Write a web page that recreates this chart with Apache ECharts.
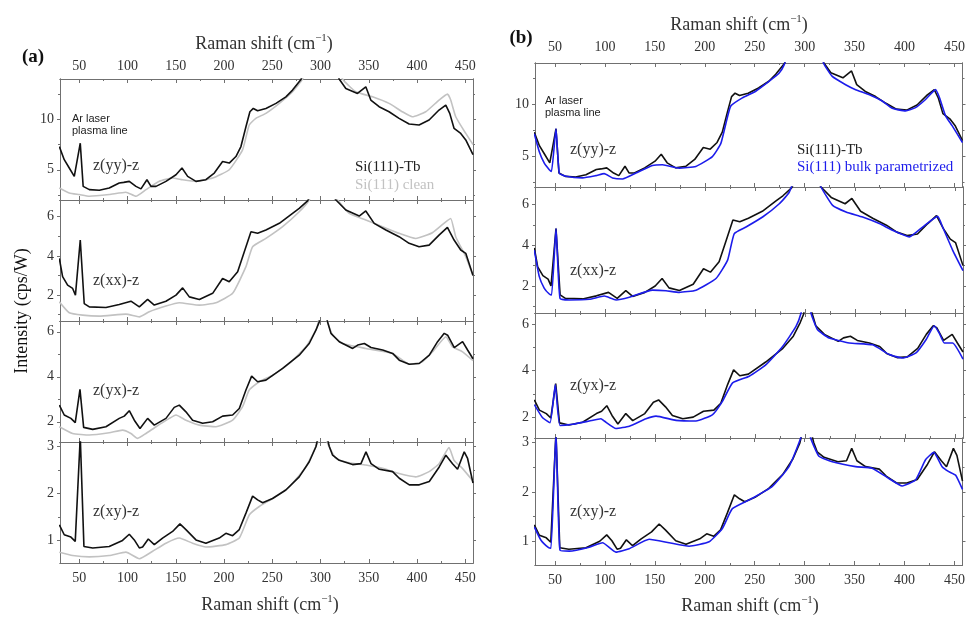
<!DOCTYPE html>
<html>
<head>
<meta charset="utf-8">
<script src="https://cdn.jsdelivr.net/npm/echarts@6/dist/echarts.min.js"></script>
<style>
html,body{margin:0;padding:0;background:#fff}
#chart{width:968px;height:617px}
</style>
</head>
<body>
<div id="chart"></div>
<script>
// tick positions
const xMajor = [50, 100, 150, 200, 250, 300, 350, 400, 450];
const xMinor = [75, 125, 175, 225, 275, 325, 375, 425];
const yMajor = [[5, 10], [2, 4, 6], [2, 4, 6], [1, 2, 3]];
const yMinor = [[2.5, 7.5, 12.5], [1, 3, 5], [3, 5], [1.5, 2.5]];
const yRange = [[2, 14], [0.68, 6.85], [1.1, 6.48], [0.52, 3.09]];
const modeLabels = ['z(yy)-z', 'z(xx)-z', 'z(yx)-z', 'z(xy)-z'];

// Si(111)-Tb (black)
const tbYY = [[29.3,7.3],[34.4,6.0],[39.6,5.17],[44.8,4.34],[46.5,4.3],[51,7.63],[54,3.35],[60.4,3.03],[70.7,2.97],[81,3.19],[91.4,3.69],[96,3.75],[101.8,3.85],[108.7,3.35],[113.9,3.1],[120.1,4.01],[124.3,3.35],[129.5,3.35],[139.8,3.85],[150.2,4.5],[156.4,5.17],[162.3,4.34],[170.9,3.85],[181.2,4.01],[189.9,4.67],[198.5,5.82],[205.4,5.66],[212.3,6.31],[217.5,7.3],[222.7,9.27],[226.8,10.75],[230.3,11.08],[234.8,10.85],[243.4,11.08],[253.8,11.58],[264.1,12.23],[271,12.9],[279.7,13.95],[290,16.5],[300,18],[310,16.5],[319.3,14],[326.2,13.06],[338.3,12.57],[346.9,13.23],[352.1,11.91],[360.7,11.25],[371,10.75],[381.4,10.1],[391.8,9.54],[402.1,9.44],[412.5,9.93],[422.8,10.92],[429.8,11.41],[433.9,10.59],[438.4,9.1],[445.3,8.6],[450.5,7.96],[458,6.5]];
const tbXX = [[29.3,3.87],[32.7,2.94],[37.9,2.51],[43.1,2.34],[46,2.0],[51,4.81],[55.1,1.57],[60.4,1.4],[77.6,1.37],[91.4,1.52],[103.5,1.69],[112.2,1.4],[120.8,1.78],[127.7,1.49],[139.8,1.69],[150.2,2.0],[157.1,2.37],[164,1.91],[174.4,1.78],[188.2,2.09],[198.5,2.85],[205.4,2.68],[214.1,3.19],[221,4.21],[227.9,5.23],[234.8,5.15],[243.4,5.32],[257.3,5.66],[271,6.17],[277.9,6.42],[286.6,6.81],[300,8],[316,6.85],[326.2,6.34],[340.1,6.03],[346.9,6.29],[355.6,5.66],[367.7,5.32],[381.4,4.98],[391.8,4.64],[402.1,4.47],[412.5,4.55],[422.8,5.06],[431.5,5.45],[438.4,4.81],[445.3,4.3],[450.5,4.13],[458,3.0]];
const tbYX = [[29.3,2.74],[34.4,2.3],[41.3,2.15],[45.8,1.96],[50.7,3.44],[54.5,1.75],[63.9,1.66],[77.6,1.78],[91.4,2.15],[96.6,2.25],[101.8,2.49],[107,2.07],[112.9,1.7],[120.8,2.15],[127.7,1.85],[139.8,2.15],[148.4,2.64],[153.6,2.74],[160.5,2.44],[167.4,2.07],[177.8,1.93],[188.2,2.0],[198.5,2.25],[208.9,2.3],[215.8,2.59],[222.7,3.41],[228.6,4.03],[234.8,3.78],[243.4,3.85],[260.7,4.37],[277.9,4.96],[288.3,5.48],[295.2,6.07],[298.7,6.44],[302,7.5],[307.3,6.44],[310.8,5.93],[319.4,5.56],[333.3,5.26],[338.5,5.41],[345.4,5.48],[352.3,5.3],[364.4,5.19],[374.7,5.04],[381.6,4.74],[392,4.56],[402.3,4.59],[412.7,4.96],[421.3,5.56],[428.2,5.93],[431.7,5.85],[438.6,5.3],[447.2,5.56],[452.4,5.19],[458,4.8]];
const tbXY = [[29.3,1.33],[34.4,1.12],[41.3,1.07],[45.8,0.98],[51,3.2],[54.8,0.87],[63.9,0.84],[81,0.87],[94.8,1.0],[101.8,1.13],[107,1.01],[112.2,0.84],[115.6,0.86],[121.5,1.03],[127.7,0.91],[136.3,1.05],[146.7,1.19],[154.3,1.35],[160.5,1.23],[170.9,1.01],[181.2,0.94],[195,1.05],[201.9,1.15],[208.9,1.1],[215.8,1.23],[222.7,1.58],[229.6,1.94],[234.8,1.86],[240,1.8],[250.3,1.89],[264.1,2.07],[277.9,2.35],[288.3,2.67],[295.2,2.99],[302,3.6],[309,3.0],[312.5,2.81],[319.4,2.7],[333.2,2.61],[341.9,2.63],[347.1,2.88],[352.3,2.63],[360.9,2.51],[374.7,2.46],[381.6,2.32],[392,2.18],[402.3,2.18],[412.7,2.25],[423,2.56],[429.9,2.81],[436.8,2.63],[442,2.51],[448.9,2.88],[452.4,2.74],[458,2.22]];

// Si(111) clean (grey)
const cleanYY = [[29.3,3.19],[39.6,2.7],[50,2.54],[60.4,2.37],[81,2.54],[98.3,2.77],[108.7,2.37],[119.1,3.03],[132.9,3.85],[146.7,4.18],[157.1,4.01],[170.9,3.85],[188.2,4.18],[205.4,5.0],[219.2,6.97],[226.1,9.44],[233,10.1],[243.4,10.59],[257.3,11.58],[271,12.73],[281.4,14],[292,17],[300,18.5],[310,17],[322.8,14],[336.6,12.73],[353.9,12.23],[371,11.58],[384.8,10.75],[395.1,10.26],[409,10.75],[422.8,11.91],[431.5,12.5],[434.9,11.91],[440.1,10.26],[450.5,8.6],[458,7.5]];
const cleanXX = [[29.3,1.66],[39.6,1.1],[53.4,0.98],[70.7,0.93],[98.3,1.03],[112.2,0.89],[122.5,1.15],[139.8,1.44],[153.6,1.61],[174.4,1.49],[191.6,1.61],[208.9,2.09],[222.7,3.45],[229.6,4.47],[243.4,4.89],[260.7,5.49],[277.9,6.25],[288.3,6.85],[300,8],[317.7,6.85],[329.7,6.17],[346.9,5.83],[364.2,5.49],[381.4,5.15],[398.7,4.89],[415.9,5.18],[429.8,5.74],[434.9,5.91],[440.1,4.98],[450.5,3.96],[458,3.0]];
const cleanYX = [[29.3,1.78],[43.1,1.48],[60.4,1.41],[81,1.51],[94.8,1.63],[103.5,1.48],[110.4,1.26],[119.1,1.48],[129.5,1.78],[143.3,2.15],[150.2,2.3],[160.5,2.07],[174.4,1.85],[191.6,1.78],[208.9,2.07],[219.2,2.67],[226.1,3.41],[236.5,3.78],[250.3,4.07],[267.6,4.59],[284.8,5.33],[295.2,6.07],[297.9,6.48],[302,7.5],[307,6.48],[312.5,5.85],[322.8,5.48],[347,5.26],[374.7,5.04],[392,4.56],[405.7,4.67],[416.1,5.11],[429.9,5.78],[436.8,5.33],[447.2,5.11],[458,4.72]];
const cleanXY = [[29.3,0.75],[43.1,0.68],[60.4,0.65],[81,0.68],[98.3,0.75],[112.2,0.61],[126,0.77],[139.8,0.94],[153.6,1.05],[167.4,0.94],[181.2,0.86],[201.9,0.91],[215.8,1.05],[226.1,1.54],[236.5,1.72],[250.3,1.89],[267.6,2.14],[284.8,2.56],[296.9,3.08],[302,3.6],[307,3.08],[316,2.74],[329.7,2.65],[346.9,2.6],[364.2,2.53],[381.4,2.42],[398.7,2.35],[412.5,2.46],[422.8,2.63],[433.2,2.97],[438.4,2.7],[447,2.53],[458,2.26]];

// Si(111) bulk parametrized (blue)
const bulkYY = [[29.3,7.15],[34.3,5.41],[39.3,4.3],[44.3,3.67],[46.5,3.5],[51,7.63],[54.3,3.35],[61,3.04],[77.6,2.88],[91,3.1],[99.3,3.29],[107.6,2.88],[117.6,2.78],[131,3.35],[147.6,4.08],[157.6,4.15],[174.3,3.83],[191,3.99],[207.6,4.94],[216,6.2],[221,8.1],[226,9.84],[237.6,10.63],[251,11.27],[264.3,12.22],[274.3,13.0],[279.3,13.8],[290,16.5],[300,19],[310,16.5],[319.3,13.9],[327.6,12.7],[341,11.9],[351,11.42],[364.3,10.95],[377.6,10.32],[387.6,9.62],[401,9.37],[411,9.68],[421,10.47],[431,11.42],[435,10.63],[441,8.89],[447.6,7.94],[458,6.3]];
const bulkXX = [[29.3,3.76],[34.3,2.46],[39.3,1.89],[44.3,1.61],[46.6,1.56],[51,4.81],[55,1.4],[64.3,1.32],[84.3,1.35],[99.3,1.51],[111,1.32],[124.3,1.45],[147.6,1.8],[161,1.77],[174.3,1.69],[191,1.8],[211,2.37],[222.6,3.27],[229.3,4.57],[241,4.89],[257.6,5.38],[274.3,6.03],[284.3,6.6],[300,8.5],[316,6.85],[327.6,5.95],[341,5.63],[357.6,5.38],[374.3,5.06],[387.6,4.73],[404.3,4.41],[417.6,4.89],[432.6,5.41],[437.6,4.89],[447.6,3.76],[458,2.75]];
const bulkYX = [[29.3,2.54],[37.6,1.97],[45,1.76],[50.3,3.4],[55,1.64],[67.6,1.69],[84.3,1.83],[96,1.93],[99.3,1.83],[111,1.51],[124.3,1.61],[141,1.93],[151,2.04],[171,1.86],[191,1.83],[207.6,2.11],[217.6,2.69],[227.6,3.47],[244.3,3.76],[261,4.26],[277.6,5.04],[291,5.9],[296,6.47],[301,7.5],[306,6.47],[312.6,5.76],[324.3,5.4],[344.3,5.19],[367.6,5.11],[384.3,4.69],[397.6,4.54],[411,4.76],[421,5.33],[429.3,5.93],[434.3,5.61],[439.3,5.19],[447.6,5.19],[458,4.5]];
const bulkXY = [[29.3,1.29],[36,1.02],[43.6,0.87],[46,0.86],[51,3.2],[55,0.82],[64.3,0.8],[84.3,0.88],[97.6,0.97],[111,0.78],[124.3,0.85],[144.3,1.04],[164.3,0.97],[184.3,0.9],[204.3,0.99],[217.6,1.26],[227.6,1.66],[247.6,1.87],[267.6,2.11],[284.3,2.51],[296,3.09],[301,3.6],[306,3.09],[314.3,2.72],[327.6,2.61],[351,2.51],[367.6,2.48],[384.3,2.27],[397.6,2.12],[411,2.24],[421,2.65],[429.3,2.8],[437.6,2.51],[444.3,2.41],[451,2.34],[458,2.05]];

const tbData = [tbYY, tbXX, tbYX, tbXY];
const cleanData = [cleanYY, cleanXX, cleanYX, cleanXY];
const bulkData = [bulkYY, bulkXX, bulkYX, bulkXY];

const serif = 'Liberation Serif';
const sans = 'Liberation Sans';
const frame = '#707070';
const black = '#111111';
const grey = '#c2c2c2';
const blue = '#1c1ceb';

const panels = [
  {left: 60, width: 413, edges: [79, 200, 321, 442, 563], ref: cleanData, refColor: grey, refOnTop: false, topMargin: 6},
  {left: 535, width: 428, edges: [63, 187, 313, 438, 565], ref: bulkData, refColor: blue, refOnTop: true, topMargin: 9}
];

function xAx(gi, pos, vals, len, labels, margin) {
  return {
    type: 'value', gridIndex: gi, position: pos, min: 30, max: 458,
    axisLine: {show: true, onZero: false, lineStyle: {color: frame, width: 1}},
    axisTick: {show: true, inside: true, length: len, customValues: vals, lineStyle: {color: frame}},
    axisLabel: {show: labels, customValues: vals, margin: margin, fontFamily: serif, fontSize: 14, color: '#333'},
    splitLine: {show: false}
  };
}
function yAx(gi, pos, k, vals, len, labels) {
  return {
    type: 'value', gridIndex: gi, position: pos, min: yRange[k][0], max: yRange[k][1],
    axisLine: {show: true, onZero: false, lineStyle: {color: frame, width: 1}},
    axisTick: {show: true, inside: false, length: len, customValues: vals, lineStyle: {color: frame}},
    axisLabel: {show: labels, customValues: vals, margin: 6, fontFamily: serif, fontSize: 14, color: '#333'},
    splitLine: {show: false}
  };
}

const grid = [], xAxis = [], yAxis = [], series = [];
panels.forEach(function (p) {
  for (let k = 0; k < 4; k++) {
    const gi = grid.length;
    grid.push({left: p.left, top: p.edges[k], width: p.width, height: p.edges[k + 1] - p.edges[k]});
    const xi = xAxis.length, yi = yAxis.length;
    xAxis.push(xAx(gi, 'bottom', xMajor, 4, k === 3, 8));
    xAxis.push(xAx(gi, 'top', xMajor, 4, k === 0, p.topMargin));
    xAxis.push(xAx(gi, 'bottom', xMinor, 2, false, 8));
    xAxis.push(xAx(gi, 'top', xMinor, 2, false, 8));
    yAxis.push(yAx(gi, 'left', k, yMajor[k], 3, true));
    yAxis.push(yAx(gi, 'left', k, yMinor[k], 2, false));
    yAxis.push(yAx(gi, 'right', k, yMajor[k], 3, false));
    yAxis.push(yAx(gi, 'right', k, yMinor[k], 2, false));
    const blackS = {type: 'line', xAxisIndex: xi, yAxisIndex: yi, data: tbData[k], showSymbol: false,
      lineStyle: {color: black, width: 1.6}, z: 3};
    const refS = {type: 'line', xAxisIndex: xi, yAxisIndex: yi, data: p.ref[k], showSymbol: false,
      smooth: 0.15, lineStyle: {color: p.refColor, width: 1.6}, z: p.refOnTop ? 4 : 2};
    series.push(refS, blackS);
  }
});

function label(x, y, text, opt) {
  return {type: 'text', x: x, y: y, silent: true,
    style: Object.assign({text: text, fontFamily: serif, fontSize: 16, fill: '#333',
      textAlign: 'left', textVerticalAlign: 'middle'}, opt || {})};
}
const axisTitleRich = {
  m: {fontFamily: serif, fontSize: 18, lineHeight: 22, color: '#111'},
  s: {fontFamily: serif, fontSize: 11, lineHeight: 13, verticalAlign: 'top', color: '#111'}
};
const axisTitle = '{m|Raman shift (cm}{s|\u22121}{m|)}';

const graphic = [
  label(33, 57, '(a)', {fontWeight: 'bold', fontSize: 19, textAlign: 'center', fill: '#111'}),
  label(521, 38, '(b)', {fontWeight: 'bold', fontSize: 19, textAlign: 'center', fill: '#111'}),
  label(264, 44, axisTitle, {textAlign: 'center', rich: axisTitleRich}),
  label(739, 25, axisTitle, {textAlign: 'center', rich: axisTitleRich}),
  label(270, 605, axisTitle, {textAlign: 'center', rich: axisTitleRich}),
  label(750, 606, axisTitle, {textAlign: 'center', rich: axisTitleRich}),
  {type: 'text', x: 22, y: 311, rotation: Math.PI / 2, silent: true,
    style: {text: 'Intensity (cps/W)', fontFamily: serif, fontSize: 18, fill: '#111',
      textAlign: 'center', textVerticalAlign: 'middle'}},
  label(72, 119, 'Ar laser', {fontFamily: sans, fontSize: 11, fill: '#222'}),
  label(72, 131, 'plasma line', {fontFamily: sans, fontSize: 11, fill: '#222'}),
  label(545, 101, 'Ar laser', {fontFamily: sans, fontSize: 11, fill: '#222'}),
  label(545, 113, 'plasma line', {fontFamily: sans, fontSize: 11, fill: '#222'}),
  label(355, 167, 'Si(111)-Tb', {fontSize: 15, fill: '#222'}),
  label(355, 185, 'Si(111) clean', {fontSize: 15, fill: grey}),
  label(797, 150, 'Si(111)-Tb', {fontSize: 15, fill: '#222'}),
  label(797, 167, 'Si(111) bulk parametrized', {fontSize: 15, fill: blue})
];
const modeYa = [166, 281, 391, 512];
const modeYb = [150, 271, 386, 512];
modeLabels.forEach(function (t, k) {
  graphic.push(label(93, modeYa[k], t));
  graphic.push(label(570, modeYb[k], t));
});

const chart = echarts.init(document.getElementById('chart'), null, {renderer: 'canvas'});
chart.setOption({
  animation: false,
  backgroundColor: '#fff',
  grid: grid,
  xAxis: xAxis,
  yAxis: yAxis,
  series: series,
  graphic: graphic
});
</script>
</body>
</html>
